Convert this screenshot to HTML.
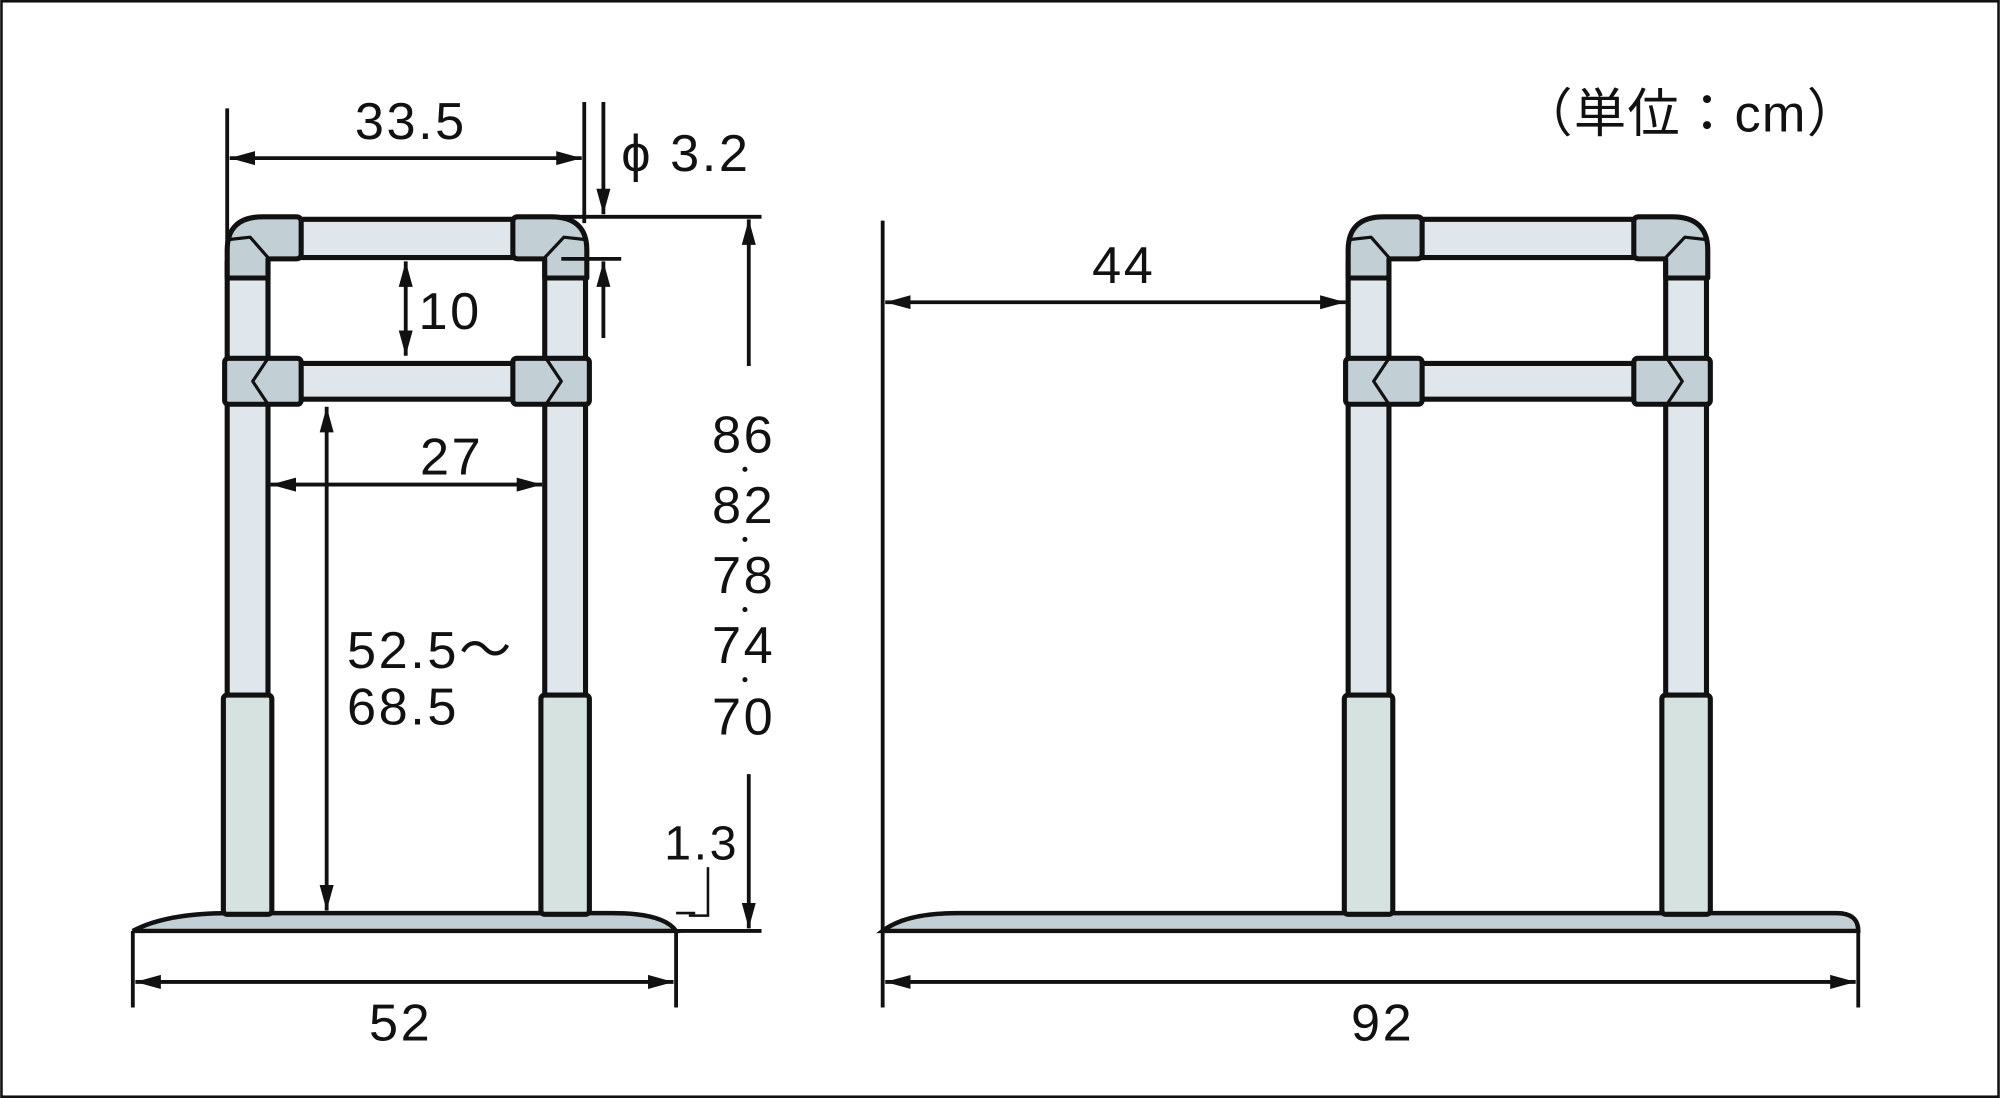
<!DOCTYPE html>
<html><head><meta charset="utf-8"><style>
html,body{margin:0;padding:0;background:#fff}
svg{display:block}
text{font-family:"Liberation Sans","Noto Sans CJK JP",sans-serif;fill:#111}
</style></head><body>
<svg width="2000" height="1098" viewBox="0 0 1568 861" xmlns="http://www.w3.org/2000/svg">
<defs>
<marker id="b" viewBox="0 0 20 12" refX="20" refY="6" markerWidth="20" markerHeight="12" orient="auto-start-reverse" markerUnits="userSpaceOnUse">
<path d="M0,0.5 L20,6 L0,11.5 Z" fill="#111"/></marker>
<g id="frame" stroke="#111" stroke-width="4" stroke-linejoin="round">
<rect x="178" y="205" width="32" height="342" fill="#dfe6ec"/>
<rect x="427" y="205" width="32" height="342" fill="#dfe6ec"/>
<rect x="175" y="545" width="38" height="172" rx="3" fill="#d5e2df"/>
<rect x="424" y="545" width="38" height="172" rx="3" fill="#d5e2df"/>
<rect x="230" y="172" width="176" height="30" fill="#dfe6ec"/>
<rect x="230" y="285" width="176" height="28" fill="#dfe6ec"/>
<path d="M178,218 L178,196 Q178,170 206,170 L232,170 Q236,170 236,174 L236,199 Q236,203 232,203 L210,203 L210,218 Z" fill="#c2d0d5"/>
<path d="M178,188 L196,186 L210,202" fill="none" stroke-width="2.5"/>
<path d="M460,218 L460,196 Q460,170 432,170 L406,170 Q402,170 402,174 L402,199 Q402,203 406,203 L427,203 L427,218 Z" fill="#c2d0d5"/>
<path d="M460,188 L442,186 L427,202" fill="none" stroke-width="2.5"/>
<rect x="176" y="281" width="60" height="36" rx="3" fill="#c2d0d5"/>
<path d="M210,281 L198,299 L210,317" fill="none" stroke-width="2.5"/>
<rect x="402" y="281" width="60" height="36" rx="3" fill="#c2d0d5"/>
<path d="M428,281 L440,299 L428,317" fill="none" stroke-width="2.5"/>
</g>
</defs>
<rect x="1" y="1" width="1566" height="859" fill="#fff" stroke="#111" stroke-width="2"/>

<path d="M104,730 Q130,716 180,716 L480,716 Q520,716 530,730 Z" fill="#c2d0d5" stroke="#111" stroke-width="3.5"/>
<line x1="104" y1="730" x2="597" y2="730" stroke="#111" stroke-width="3"/>
<use href="#frame"/>
<path d="M692,730 Q710,716 750,716 L1440,716 Q1457,716 1457,730 Z" fill="#c2d0d5" stroke="#111" stroke-width="3.5"/>
<use href="#frame" transform="translate(879,0)"/>

<g stroke="#111" stroke-width="3" fill="none">
<line x1="178" y1="85" x2="178" y2="190"/>
<line x1="458" y1="80" x2="458" y2="175"/>
<line x1="180" y1="124" x2="456" y2="124" marker-start="url(#b)" marker-end="url(#b)"/>
<line x1="473" y1="80" x2="473" y2="168" marker-end="url(#b)"/>
<line x1="473" y1="265" x2="473" y2="205" marker-end="url(#b)"/>
<line x1="440" y1="170" x2="597" y2="170"/>
<line x1="440" y1="203" x2="487" y2="203"/>
<line x1="318" y1="205" x2="318" y2="279" marker-start="url(#b)" marker-end="url(#b)"/>
<line x1="212" y1="380" x2="425" y2="380" marker-start="url(#b)" marker-end="url(#b)"/>
<line x1="256" y1="319" x2="256" y2="714" marker-start="url(#b)" marker-end="url(#b)"/>
<line x1="587" y1="287" x2="587" y2="172" marker-end="url(#b)"/>
<line x1="587" y1="607" x2="587" y2="728" marker-end="url(#b)"/>
<path d="M555,680 L555,718 L540,718" stroke-width="2"/>
<line x1="530" y1="716" x2="545" y2="716" stroke-width="2"/>
<line x1="104" y1="730" x2="104" y2="790"/>
<line x1="530" y1="730" x2="530" y2="790"/>
<line x1="106" y1="770" x2="528" y2="770" marker-start="url(#b)" marker-end="url(#b)"/>
<line x1="692" y1="173" x2="692" y2="790"/>
<line x1="694" y1="237" x2="1055" y2="237" marker-start="url(#b)" marker-end="url(#b)"/>
<line x1="1457" y1="730" x2="1457" y2="790"/>
<line x1="694" y1="770" x2="1455" y2="770" marker-start="url(#b)" marker-end="url(#b)"/>
</g>

<g font-size="41" letter-spacing="2">
<text x="322" y="109" text-anchor="middle">33.5</text>
<text x="487" y="134">ϕ 3.2</text>
<text x="328" y="258">10</text>
<text x="354" y="372" text-anchor="middle">27</text>
<text x="272" y="524">52.5～</text>
<text x="272" y="568">68.5</text>
<text x="583" y="355" text-anchor="middle">86</text>
<text x="583" y="410" text-anchor="middle">82</text>
<text x="583" y="465" text-anchor="middle">78</text>
<text x="583" y="520" text-anchor="middle">74</text>
<text x="583" y="576" text-anchor="middle">70</text>
<text x="550" y="674" text-anchor="middle" font-size="38">1.3</text>
<text x="314" y="816" text-anchor="middle">52</text>
<text x="881" y="222" text-anchor="middle">44</text>
<text x="1084" y="816" text-anchor="middle">92</text>
<text x="1192" y="103" letter-spacing="1">（単位：cm）</text>
</g>
<g fill="#111"><circle cx="584" cy="368" r="2"/><circle cx="584" cy="423" r="2"/><circle cx="584" cy="478" r="2"/><circle cx="584" cy="533" r="2"/></g>
</svg>
</body></html>
